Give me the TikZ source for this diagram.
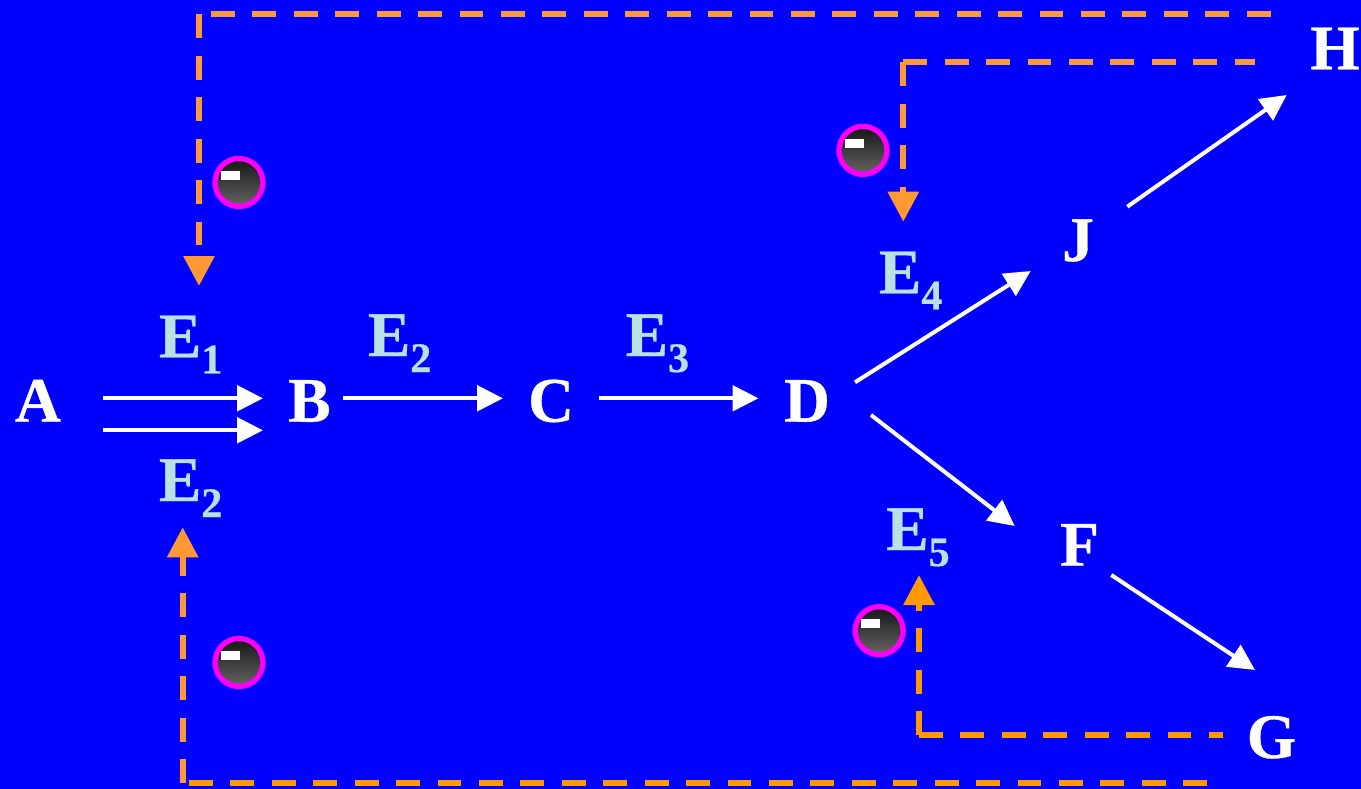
\documentclass[tikz,border=0pt]{standalone}
\usepackage{fontspec}
\setmainfont{Liberation Serif}
\newfontfamily\heavyserif[FakeBold=0.6]{Liberation Serif Bold}
\usetikzlibrary{arrows.meta}
\definecolor{bgblue}{HTML}{0000FF}
\definecolor{labelc}{HTML}{BBE0E3}
\definecolor{orangeA}{HTML}{FF9933}
\definecolor{orangeB}{HTML}{FF9900}
\definecolor{ringc}{HTML}{FF00FF}
\tikzset{
  letter/.style={anchor=base,inner sep=0pt,outer sep=0pt,text=white,font=\heavyserif\fontsize{63.5}{64}\selectfont},
  elabel/.style={anchor=base west,inner sep=0pt,outer sep=0pt,text=labelc,font=\heavyserif\fontsize{63.5}{64}\selectfont},
  flow/.style={draw=white,line width=4pt,-{Triangle[length=26pt,width=25.5pt]}},
  ctrl/.style={line width=6pt,dash pattern=on 23.8pt off 17.63pt},
  ctrlhead/.style={ctrl,-{Triangle[length=30pt,width=30pt]}},
  ball/.style={circle,draw=ringc,line width=5.3pt,minimum size=48pt,inner sep=0pt,top color=black!92,bottom color=black!60!white},
  glint/.style={fill=white,draw=none}
}
\newcommand{\esub}[1]{E\raisebox{-16pt}{\fontsize{42}{42}\selectfont #1}}
\begin{document}
\begin{tikzpicture}[x=1pt,y=-1pt]
\useasboundingbox (0,0) rectangle (1361,789);
\fill[bgblue] (0,0) rectangle (1361,789);
% letters
\node[letter] (A) at (38,421.7) {A};
\node[letter] (B) at (309.5,421.7) {B};
\node[letter] (C) at (551,421.7) {C};
\node[letter] (D) at (807,421.7) {D};
\node[letter] (J) at (1078,261) {J};
\node[letter] (H) at (1335,69.3) {H};
\node[letter] (F) at (1079.5,565.7) {F};
\node[letter] (G) at (1271.5,758) {G};
% labels
\node[elabel] (E1) at (159,357.3) {\esub{1}};
\node[elabel] (E2b) at (159,501) {\esub{2}};
\node[elabel] (E2) at (368,356) {\esub{2}};
\node[elabel] (E3) at (625.7,356) {\esub{3}};
\node[elabel] (E4) at (879,293.3) {\esub{4}};
\node[elabel] (E5) at (886.3,550) {\esub{5}};
% white flow arrows
\draw[flow] ([shift={(65,-23.4)}]A.base) -- ([shift={(-46.5,-23.4)}]B.base);
\draw[flow] ([shift={(65,8.6)}]A.base) -- ([shift={(-46.5,8.6)}]B.base);
\draw[flow] ([shift={(33.5,-23.4)}]B.base) -- ([shift={(-48,-23.4)}]C.base);
\draw[flow] ([shift={(48,-23.4)}]C.base) -- ([shift={(-48.5,-23.4)}]D.base);
\draw[flow] ([shift={(48,-39.4)}]D.base) -- ([shift={(-47.3,10)}]J.base);
\draw[flow] ([shift={(64,-6.7)}]D.base) -- ([shift={(-64.8,-39.7)}]F.base);
\draw[flow] ([shift={(49.3,-54.3)}]J.base) -- ([shift={(-48.3,25.7)}]H.base);
\draw[flow] ([shift={(31.8,9.3)}]F.base) -- ([shift={(-16.5,-88)}]G.base);
% dashed control lines
\coordinate (c1) at (199,14.5);
\coordinate (c1b) at (211,14.5);
\coordinate (c2) at (182.7,783);
\coordinate (c2b) at (189,783);
\coordinate (c4) at (903.3,62.3);
\coordinate (c5) at (919,735);
\draw[ctrl,orangeA] (c1b) -- ([shift={(-64,-54.8)}]H.base);
\draw[ctrlhead,orangeA] (c1) -- ([shift={(40,-71.3)}]E1.base west);
\draw[ctrl,orangeA] (c4) -- ([shift={(-80,-7)}]H.base);
\draw[ctrlhead,orangeA] (c4) -- ([shift={(24.3,-71.6)}]E4.base west);
\draw[ctrl,orangeB] (c2b) -- ([shift={(-64.5,25)}]G.base);
\draw[ctrlhead,orangeA] (c2) -- ([shift={(23.7,26.3)}]E2b.base west);
\draw[ctrl,orangeB] (c5) -- ([shift={(-48.5,-23)}]G.base);
\draw[ctrlhead,orangeB] (c5) -- ([shift={(32.7,25)}]E5.base west);
% balls
\foreach \n/\x/\y in {b1/239/182.5,b2/863/150.4,b3/239/662.5,b4/879.2/630.7}{
  \node[ball] (\n) at (\x,\y) {};
  \fill[glint] ([shift={(-18,-11.4)}]\n.center) rectangle ([shift={(1,-2.4)}]\n.center);
}
\end{tikzpicture}
\end{document}
